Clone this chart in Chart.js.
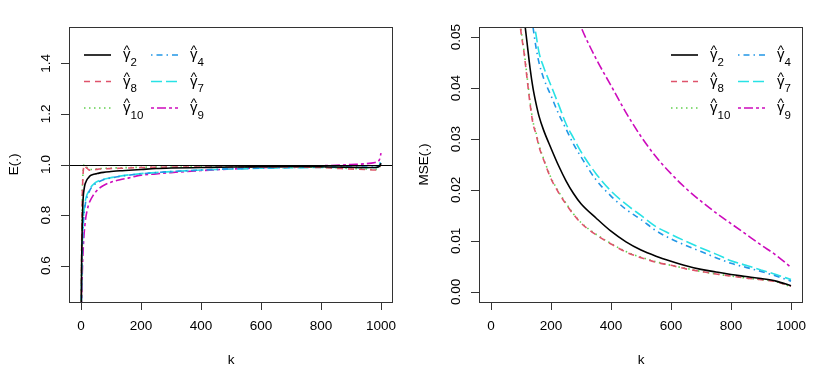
<!DOCTYPE html>
<html><head><meta charset="utf-8">
<script src="https://cdn.jsdelivr.net/npm/chart.js@4.4.1/dist/chart.umd.min.js"></script>
<style>
html,body{margin:0;padding:0;background:#fff;}
#wrap{position:relative;width:823px;height:379px;overflow:hidden;}
.p{position:absolute;top:0;height:379px;}
</style></head><body>
<div id="wrap">
<div class="p" style="left:0;width:410px"><canvas id="c1"></canvas></div>
<div class="p" style="left:410px;width:413px"><canvas id="c2"></canvas></div>
</div>
<script>
// ---------- data ----------
const kE = [1, 2, 4, 6, 8, 10, 13, 16, 20, 25, 30, 40, 50, 60, 75, 100, 130, 160, 200, 250, 300, 400, 500, 600, 700, 800, 850, 900, 950, 980, 990, 995, 1000];
const eG2  = [0.44, 0.60, 0.75, 0.84, 0.88, 0.90, 0.92, 0.93, 0.94, 0.948, 0.955, 0.960, 0.963, 0.966, 0.969, 0.972, 0.975, 0.977, 0.980, 0.984, 0.986, 0.988, 0.990, 0.991, 0.992, 0.991, 0.990, 0.989, 0.988, 0.988, 0.990, 0.993, 1.005];
const eG8  = [0.44, 0.62, 0.85, 0.94, 0.98, 0.995, 0.997, 0.990, 0.985, 0.980, 0.977, 0.978, 0.980, 0.982, 0.983, 0.984, 0.985, 0.986, 0.988, 0.989, 0.990, 0.990, 0.990, 0.990, 0.990, 0.988, 0.985, 0.982, 0.980, 0.978, 0.982, 0.990, 1.000];
const eG10 = [0.44, 0.64, 0.87, 0.95, 0.985, 0.998, 1.000, 0.995, 0.988, 0.983, 0.980, 0.980, 0.982, 0.983, 0.985, 0.986, 0.987, 0.988, 0.989, 0.990, 0.990, 0.991, 0.991, 0.990, 0.990, 0.989, 0.987, 0.984, 0.982, 0.980, 0.983, 0.990, 0.998];
const eG4  = [0.44, 0.52, 0.64, 0.72, 0.77, 0.80, 0.83, 0.855, 0.87, 0.885, 0.900, 0.915, 0.925, 0.932, 0.940, 0.947, 0.953, 0.958, 0.963, 0.968, 0.972, 0.978, 0.983, 0.986, 0.988, 0.990, 0.990, 0.990, 0.990, 0.990, 0.992, 0.996, 1.010];
const eG7  = [0.44, 0.53, 0.66, 0.74, 0.79, 0.815, 0.845, 0.865, 0.88, 0.892, 0.905, 0.920, 0.930, 0.936, 0.942, 0.948, 0.954, 0.959, 0.964, 0.968, 0.972, 0.978, 0.982, 0.985, 0.987, 0.988, 0.988, 0.988, 0.987, 0.988, 0.990, 0.998, 1.020];
const eG9  = [0.40, 0.45, 0.56, 0.63, 0.68, 0.72, 0.76, 0.79, 0.815, 0.84, 0.855, 0.877, 0.893, 0.905, 0.917, 0.930, 0.940, 0.947, 0.958, 0.963, 0.968, 0.976, 0.982, 0.987, 0.991, 0.995, 0.997, 1.000, 1.003, 1.008, 1.012, 1.020, 1.045];

const kM = [90, 100, 110, 120, 130, 140, 150, 160, 175, 200, 225, 250, 275, 300, 350, 400, 450, 500, 550, 600, 650, 700, 750, 800, 850, 900, 950, 1000];
const mG2  = [null, null, 0.054, 0.049, 0.044, 0.040, 0.037, 0.0345, 0.0318, 0.0282, 0.0248, 0.0218, 0.0193, 0.0173, 0.0145, 0.0119, 0.0098, 0.0082, 0.0070, 0.0060, 0.0051, 0.0044, 0.0039, 0.0034, 0.0030, 0.0026, 0.0021, 0.0012];
const mG8  = [0.056, 0.051, 0.047, 0.042, 0.037, 0.033, 0.031, 0.0285, 0.026, 0.0222, 0.0195, 0.0172, 0.0152, 0.0135, 0.0112, 0.0094, 0.0078, 0.0067, 0.0058, 0.0052, 0.0045, 0.0040, 0.0035, 0.0031, 0.0027, 0.0024, 0.0020, 0.0011];
const mG10 = [0.0565, 0.0515, 0.0474, 0.0424, 0.0374, 0.0334, 0.0313, 0.0288, 0.0262, 0.0224, 0.0197, 0.0174, 0.0153, 0.0136, 0.0113, 0.0095, 0.0079, 0.0068, 0.0059, 0.0052, 0.0046, 0.0040, 0.0035, 0.0031, 0.0027, 0.0024, 0.0020, 0.0010];
const mG4  = [null, null, null, null, 0.056, 0.052, 0.048, 0.045, 0.042, 0.0385, 0.035, 0.032, 0.029, 0.0265, 0.022, 0.0188, 0.0162, 0.0142, 0.0120, 0.0104, 0.0091, 0.0079, 0.0067, 0.0056, 0.0048, 0.0040, 0.0031, 0.0021];
const mG7  = [null, null, null, null, null, 0.054, 0.0505, 0.047, 0.0442, 0.0405, 0.0368, 0.033, 0.0302, 0.0275, 0.0232, 0.0198, 0.0172, 0.0150, 0.0128, 0.0113, 0.0099, 0.0086, 0.0074, 0.0061, 0.0052, 0.0043, 0.0034, 0.0024];
const mG9  = [null, null, null, null, null, null, null, null, null, null, null, null, 0.056, 0.0520, 0.0458, 0.0405, 0.0352, 0.0305, 0.0265, 0.0232, 0.0203, 0.0178, 0.0155, 0.0134, 0.0113, 0.0092, 0.0072, 0.0048];

const xTicks = [0, 200, 400, 600, 800, 1000];
const xTickLabels = ['0', '200', '400', '600', '800', '1000'];
const eTicks = [0.6, 0.8, 1.0, 1.2, 1.4];
const eTickLabels = ['0.6', '0.8', '1.0', '1.2', '1.4'];
const mTicks = [0, 0.01, 0.02, 0.03, 0.04, 0.05];
const mTickLabels = ['0.00', '0.01', '0.02', '0.03', '0.04', '0.05'];
const seriesSubs = ['2', '8', '10', '4', '7', '9'];
const eRef = 1.0;

// ---------- styles ----------
const colors = ['#000000', '#DF536B', '#61D04F', '#2297E6', '#28E2E5', '#CD0BBC'];
const dashes = [[], [6, 5], [1.5, 3.5], [1.5, 4, 6, 4], [11, 4], [3, 3, 9, 3]];
const FONT = '"Liberation Sans", Arial, Helvetica, sans-serif';
const FS = 13.5;

function rFramePlugin(cfg) {
  return {
    id: 'rframe',
    afterDatasetsDraw(chart) {
      const ctx = chart.ctx, ca = chart.chartArea, ys = chart.scales.y;
      ctx.save();
      if (cfg.ref !== null) {
        const py = Math.round(ys.getPixelForValue(cfg.ref)) + 0.5;
        ctx.strokeStyle = '#000'; ctx.lineWidth = 1.2; ctx.setLineDash([]);
        ctx.beginPath(); ctx.moveTo(ca.left, py); ctx.lineTo(ca.right, py); ctx.stroke();
      }
      ctx.strokeStyle = '#333'; ctx.lineWidth = 1; ctx.setLineDash([]);
      ctx.strokeRect(Math.round(ca.left) + 0.5, Math.round(ca.top) + 0.5,
                     Math.round(ca.right - ca.left) - 1, Math.round(ca.bottom - ca.top));
      ctx.fillStyle = '#000';
      ctx.font = FS + 'px ' + FONT;
      cfg.yTicks.forEach((v, i) => {
        const py = Math.round(ys.getPixelForValue(v)) + 0.5;
        ctx.beginPath(); ctx.moveTo(ca.left - 8, py); ctx.lineTo(ca.left, py); ctx.stroke();
        ctx.save();
        ctx.translate(ca.left - 19.5, ys.getPixelForValue(v));
        ctx.rotate(-Math.PI / 2);
        ctx.textAlign = 'center'; ctx.textBaseline = 'alphabetic';
        ctx.fillText(cfg.yLabels[i], 0, 0);
        ctx.restore();
      });
      ctx.save();
      ctx.translate(ca.left - 51, (ca.top + ca.bottom) / 2);
      ctx.rotate(-Math.PI / 2);
      ctx.textAlign = 'center'; ctx.textBaseline = 'alphabetic';
      ctx.fillText(cfg.yTitle, 0, 0);
      ctx.restore();
      for (let i = 0; i < 6; i++) {
        const col = Math.floor(i / 3), row = i % 3;
        const ly = ca.top + 28 + row * 26.5;
        const x1 = cfg.legX(ca) + col * 67;
        ctx.strokeStyle = colors[i]; ctx.lineWidth = 1.6; ctx.setLineDash(dashes[i]);
        ctx.beginPath(); ctx.moveTo(x1, ly); ctx.lineTo(x1 + 27, ly); ctx.stroke();
        ctx.setLineDash([]);
        const tx = x1 + 39;
        ctx.fillStyle = '#000';
        ctx.textAlign = 'left'; ctx.textBaseline = 'alphabetic';
        ctx.font = '15px ' + FONT;
        ctx.fillText('\u03B3', tx, ly + 4);
        const gw = ctx.measureText('\u03B3').width;
        ctx.font = '13px ' + FONT;
        ctx.textAlign = 'center';
        ctx.fillText('^', tx + gw / 2, ly - 1);
        ctx.textAlign = 'left';
        ctx.font = '11.5px ' + FONT;
        ctx.fillText(seriesSubs[i], tx + gw, ly + 10.5);
      }
      ctx.restore();
    }
  };
}

function makeChart(id, kArr, series, yMin, yMax, yT, yL, yTitle, ref, legX, padRight) {
  const datasets = series.map((s, i) => ({
    data: kArr.map((k, j) => ({ x: k, y: s[j] })),
    borderColor: colors[i],
    borderDash: dashes[i],
    borderWidth: 1.6,
    pointRadius: 0,
    fill: false,
    cubicInterpolationMode: 'monotone',
    clip: 0,
    spanGaps: false
  }));
  return new Chart(document.getElementById(id), {
    type: 'line',
    data: { datasets },
    options: {
      responsive: true, maintainAspectRatio: false, animation: false,
      layout: { padding: { top: 27, right: padRight, left: 0, bottom: 0 } },
      plugins: { legend: { display: false }, tooltip: { enabled: false } },
      scales: {
        x: {
          type: 'linear', min: -40, max: 1040,
          afterBuildTicks: s => { s.ticks = xTicks.map(v => ({ value: v })); },
          afterFit: s => { s.height = 77; },
          ticks: { callback: (v, i) => xTickLabels[i], color: '#000', font: { family: FONT, size: FS },
                   padding: 8.5, maxRotation: 0, minRotation: 0, autoSkip: false },
          grid: { display: true, drawOnChartArea: false, drawTicks: true, tickLength: 8, color: '#333', lineWidth: 1 },
          border: { display: false },
          title: { display: true, text: 'k', color: '#000', font: { family: FONT, size: FS }, padding: { top: 0, bottom: 11 } }
        },
        y: {
          type: 'linear', min: yMin, max: yMax,
          afterBuildTicks: s => { s.ticks = yT.map(v => ({ value: v })); },
          afterFit: s => { s.width = 69; },
          ticks: { display: false },
          grid: { display: false },
          border: { display: false }
        }
      }
    },
    plugins: [rFramePlugin({ yTicks: yT, yLabels: yL, yTitle, ref, legX })]
  });
}

makeChart('c1', kE, [eG2, eG8, eG10, eG4, eG7, eG9], 0.456, 1.544, eTicks, eTickLabels, 'E(.)', eRef,
          ca => ca.left + 15, 17);
makeChart('c2', kM, [mG2, mG8, mG10, mG4, mG7, mG9], -0.002, 0.052, mTicks, mTickLabels, 'MSE(.)', null,
          ca => ca.right - 132, 20);
</script>
</body></html>
